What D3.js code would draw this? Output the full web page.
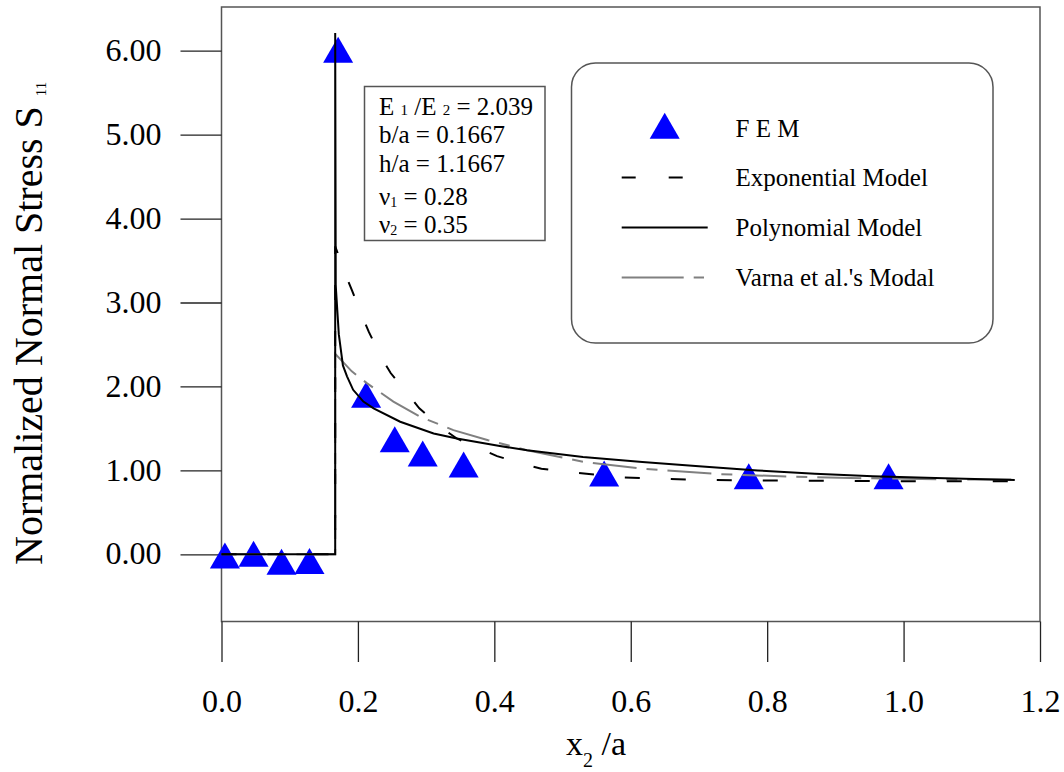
<html>
<script src="https://d3js.org/d3.v7.min.js"></script>

<head>
    <style>
        body {margin: 0; background: #fff;}
        svg text {font-family: "Liberation Serif", "Times New Roman", serif; fill: #000;}
    </style>
</head>

<body>

<svg width=1064 height=772></svg>

<script>
// FEM results (triangles)
var femX = [0.005, 0.047, 0.088, 0.129, 0.171, 0.212, 0.254, 0.295, 0.355, 0.561, 0.773, 0.978];
var femY = [-0.066, -0.045, -0.14, -0.13, 5.96, 1.85, 1.32, 1.15, 1.02, 0.91, 0.88, 0.88];

// exponential model (black dashed)
var expX = [0, 0.1667, 0.1667, 0.182, 0.191, 0.207, 0.216, 0.236, 0.248, 0.275, 0.290, 0.324, 0.345, 0.384, 0.404, 0.445, 0.469, 0.512, 0.535, 0.58, 0.648, 0.713, 0.80, 0.90, 1.0, 1.163];
var expY = [0, 0, 3.67, 3.33, 3.15, 2.82, 2.65, 2.32, 2.16, 1.89, 1.74, 1.50, 1.38, 1.24, 1.17, 1.07, 1.02, 0.98, 0.96, 0.92, 0.90, 0.885, 0.88, 0.875, 0.87, 0.87];

// polynomial model (black solid)
var polyX = [0, 0.1667, 0.1667, 0.1675, 0.172, 0.178, 0.184, 0.193, 0.208, 0.223, 0.262, 0.311, 0.345, 0.408, 0.448, 0.530, 0.617, 0.700, 0.786, 0.870, 0.955, 1.060, 1.163];
var polyY = [0, 0, 6.21, 3.2, 2.62, 2.25, 2.12, 1.96, 1.82, 1.74, 1.58, 1.44, 1.38, 1.29, 1.24, 1.16, 1.10, 1.05, 1.00, 0.96, 0.93, 0.905, 0.885];

// Varna et al. (grey dash-dot)
var varnaX = [0, 0.1667, 0.1667, 0.191, 0.213, 0.252, 0.291, 0.340, 0.391, 0.448, 0.532, 0.617, 0.730, 0.842, 0.955, 1.068, 1.163];
var varnaY = [0, 0, 2.39, 2.18, 2.04, 1.82, 1.64, 1.48, 1.36, 1.24, 1.10, 1.02, 0.956, 0.924, 0.905, 0.893, 0.893];

var xTicks = [0, 0.2, 0.4, 0.6, 0.8, 1.0, 1.2];
var yTicks = [0, 1, 2, 3, 4, 5, 6];

var legendLabels = ["F E M", "Exponential Model", "Polynomial Model", "Varna et al.'s Modal"];

function draw() {

    var plotLeft = 221.5;
    var plotRight = 1040;
    var plotTop = 7;
    var plotBottom = 621.5;

    var svg = d3.select('svg');

    var xs = d3.scaleLinear()
        .domain([0, 1.2])
        .range([plotLeft, plotRight]);

    var ys = d3.scaleLinear()
        .domain([-0.8, 6.52])
        .range([plotBottom, plotTop]);

    // frame
    svg.append("rect")
        .attr("x", plotLeft)
        .attr("y", plotTop)
        .attr("width", plotRight - plotLeft)
        .attr("height", plotBottom - plotTop)
        .style("fill", "none")
        .style("stroke", "#555")
        .style("stroke-width", 1.5);

    // axes
    var yAxis = svg.append("g")
        .attr("transform", "translate(" + plotLeft + ",0)")
        .call(d3.axisLeft(ys)
            .tickValues(yTicks)
            .tickFormat(d3.format(".2f"))
            .tickSize(41)
            .tickPadding(19));

    var xAxis = svg.append("g")
        .attr("transform", "translate(0," + plotBottom + ")")
        .call(d3.axisBottom(xs)
            .tickValues(xTicks)
            .tickFormat(d3.format(".1f"))
            .tickSize(40.5)
            .tickPadding(27));

    svg.selectAll(".domain").remove();
    svg.selectAll(".tick line").style("stroke", "#222").style("stroke-width", 1.3);
    svg.selectAll(".tick text")
        .style("font-family", "'Liberation Serif', 'Times New Roman', serif")
        .style("font-size", "32px")
        .style("fill", "#000");
    yAxis.selectAll(".tick text").attr("dy", "0.3em");

    // axis titles
    var yTitle = svg.append("text")
        .attr("transform", "translate(42,565) rotate(-90)")
        .style("font-size", "40px");
    yTitle.append("tspan").text("Normalized Normal Stress S ");
    yTitle.append("tspan").attr("dy", 4).style("font-size", "15px").text("11");

    var xTitle = svg.append("text")
        .attr("x", 566)
        .attr("y", 755)
        .style("font-size", "34px");
    xTitle.append("tspan").text("x");
    xTitle.append("tspan").attr("dy", 12).style("font-size", "20px").text("2");
    xTitle.append("tspan").attr("dy", -12).text(" /a");

    // FEM triangles
    var tri = d3.symbol().type(d3.symbolTriangle).size(390);
    svg.append("g")
        .selectAll("path")
        .data(d3.zip(femX, femY))
        .enter()
        .append("path")
        .attr("d", tri)
        .attr("transform", function(d) { return "translate(" + xs(d[0]) + "," + ys(d[1]) + ")"; })
        .style("fill", "#0000ff");

    var line = d3.line()
        .x(function(d) { return xs(d[0]); })
        .y(function(d) { return ys(d[1]); });

    svg.append("path")
        .datum(d3.zip(varnaX, varnaY))
        .attr("d", line)
        .style("fill", "none")
        .style("stroke", "#808080")
        .style("stroke-width", 2)
        .style("stroke-dasharray", "44,10,11,10");

    svg.append("path")
        .datum(d3.zip(expX, expY))
        .attr("d", line)
        .style("fill", "none")
        .style("stroke", "#000")
        .style("stroke-width", 2)
        .style("stroke-dasharray", "15,31");

    svg.append("path")
        .datum(d3.zip(polyX, polyY))
        .attr("d", line)
        .style("fill", "none")
        .style("stroke", "#000")
        .style("stroke-width", 2);

    // parameter box
    svg.append("rect")
        .attr("x", 364.5)
        .attr("y", 86.5)
        .attr("width", 180.5)
        .attr("height", 154)
        .style("fill", "#fff")
        .style("stroke", "#555")
        .style("stroke-width", 1.5);

    var params = svg.append("g").style("font-size", "25px");
    var t1 = params.append("text").attr("x", 379).attr("y", 115);
    t1.append("tspan").text("E ");
    t1.append("tspan").style("font-size", "15px").text("1");
    t1.append("tspan").text(" /E ");
    t1.append("tspan").style("font-size", "15px").text("2");
    t1.append("tspan").text(" = 2.039");
    params.append("text").attr("x", 379).attr("y", 143).text("b/a = 0.1667");
    params.append("text").attr("x", 379).attr("y", 171.5).text("h/a = 1.1667");
    var t4 = params.append("text").attr("x", 379).attr("y", 205);
    t4.append("tspan").text("ν");
    t4.append("tspan").attr("dy", 2).style("font-size", "14px").text("1");
    t4.append("tspan").attr("dy", -2).text(" = 0.28");
    var t5 = params.append("text").attr("x", 379).attr("y", 233);
    t5.append("tspan").text("ν");
    t5.append("tspan").attr("dy", 2).style("font-size", "14px").text("2");
    t5.append("tspan").attr("dy", -2).text(" = 0.35");

    // legend
    svg.append("rect")
        .attr("x", 571.5)
        .attr("y", 63)
        .attr("width", 421.5)
        .attr("height", 280)
        .attr("rx", 24)
        .attr("ry", 24)
        .style("fill", "#fff")
        .style("stroke", "#555")
        .style("stroke-width", 1.5);

    var legendY = [128, 177.5, 227.5, 277.5];

    svg.append("path")
        .attr("d", tri)
        .attr("transform", "translate(664.7," + (legendY[0] + 2) + ")")
        .style("fill", "#0000ff");

    var legendStyles = [
        null,
        {stroke: "#000", dash: "14,33", x2: 684},
        {stroke: "#000", dash: null, x2: 707.7},
        {stroke: "#808080", dash: "62,10,11,10", x2: 704}
    ];

    for (var i = 1; i < 4; i++) {
        svg.append("line")
            .attr("x1", 621.7)
            .attr("x2", legendStyles[i].x2)
            .attr("y1", legendY[i])
            .attr("y2", legendY[i])
            .style("stroke", legendStyles[i].stroke)
            .style("stroke-width", 2)
            .style("stroke-dasharray", legendStyles[i].dash);
    }

    svg.append("g")
        .selectAll("text")
        .data(legendLabels)
        .enter()
        .append("text")
        .attr("x", 735.5)
        .attr("y", function(d, i) { return legendY[i] + 8.5; })
        .style("font-size", "25px")
        .text(function(d) { return d; });
}

draw();
</script>
</body>
</html>
